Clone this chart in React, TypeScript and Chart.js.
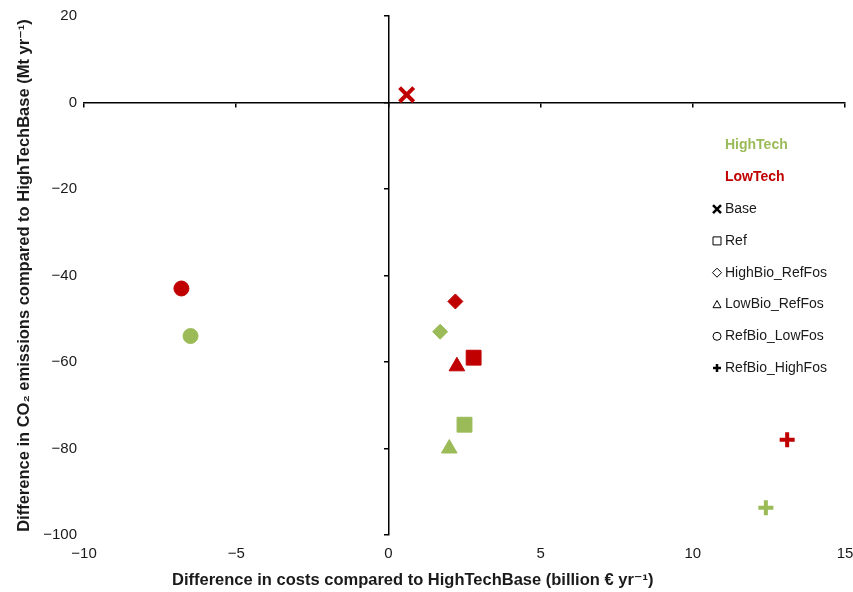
import React, { useEffect, useRef } from 'react';
import { Chart, registerables } from 'chart.js';

Chart.register(...registerables);

// ---- data ----
const scenarios = ['Base', 'Ref', 'HighBio_RefFos', 'LowBio_RefFos', 'RefBio_LowFos', 'RefBio_HighFos'];
const scenarioMarkers = ['crossRot', 'rect', 'rectRot', 'triangle', 'circle', 'cross'];
const groups = ['HighTech', 'LowTech'];
const groupColors = ['#9BBB59', '#C00000'];

// HighTech Base is the reference itself (0, 0), so it has no point
const highTechScenarios = ['Ref', 'HighBio_RefFos', 'LowBio_RefFos', 'RefBio_LowFos', 'RefBio_HighFos'];
const highTechCost = [2.5, 1.7, 2.0, -6.5, 12.4];
const highTechCO2 = [-74.5, -53, -80, -54, -93.7];

const lowTechScenarios = ['Base', 'Ref', 'HighBio_RefFos', 'LowBio_RefFos', 'RefBio_LowFos', 'RefBio_HighFos'];
const lowTechCost = [0.6, 2.8, 2.2, 2.25, -6.8, 13.1];
const lowTechCO2 = [1.8, -59, -46, -61, -43, -78];

const xTicks = [-10, -5, 0, 5, 10, 15];
const yTicks = [20, 0, -20, -40, -60, -80, -100];

const xTitle = 'Difference in costs compared to HighTechBase (billion \u20AC yr\u207B\u00B9)';
const yTitle = 'Difference in CO\u2082 emissions compared to HighTechBase (Mt yr\u207B\u00B9)';

// ---- styles ----
const FONT = "'Liberation Sans', Arial, 'DejaVu Sans', sans-serif";
const markerRadius: Record<string, number> = { crossRot: 10, rect: 10.5, rectRot: 7.5, triangle: 9, circle: 7.5, cross: 7.5 };
const markerBorder: Record<string, number> = { crossRot: 4, rect: 1, rectRot: 1, triangle: 1, circle: 1, cross: 4 };

const fmt = (v: number) => (v < 0 ? '\u2212' + Math.abs(v) : String(v));

function makeDataset(label: string, color: string, names: string[], xs: number[], ys: number[]) {
  const styles = names.map((n) => scenarioMarkers[scenarios.indexOf(n)]);
  return {
    label,
    data: xs.map((x, i) => ({ x, y: ys[i] })),
    showLine: false,
    pointStyle: styles,
    pointRadius: styles.map((s) => markerRadius[s]),
    pointHoverRadius: styles.map((s) => markerRadius[s]),
    pointBorderWidth: styles.map((s) => markerBorder[s]),
    pointHoverBorderWidth: styles.map((s) => markerBorder[s]),
    pointBackgroundColor: color,
    pointBorderColor: color,
  };
}

function drawLegendMarker(ctx: CanvasRenderingContext2D, style: string, x: number, y: number) {
  ctx.save();
  ctx.strokeStyle = '#000';
  ctx.fillStyle = '#000';
  ctx.lineWidth = 1;
  ctx.beginPath();
  const r = 4;
  switch (style) {
    case 'crossRot':
      ctx.lineWidth = 2.5;
      ctx.moveTo(x - r, y - r); ctx.lineTo(x + r, y + r);
      ctx.moveTo(x + r, y - r); ctx.lineTo(x - r, y + r);
      ctx.stroke();
      break;
    case 'rect':
      ctx.rect(x - r, y - r, 2 * r, 2 * r);
      ctx.stroke();
      break;
    case 'rectRot':
      ctx.moveTo(x, y - r - 0.5); ctx.lineTo(x + r + 0.5, y); ctx.lineTo(x, y + r + 0.5); ctx.lineTo(x - r - 0.5, y);
      ctx.closePath();
      ctx.stroke();
      break;
    case 'triangle':
      ctx.moveTo(x, y - r); ctx.lineTo(x + r, y + r * 0.8); ctx.lineTo(x - r, y + r * 0.8);
      ctx.closePath();
      ctx.stroke();
      break;
    case 'circle':
      ctx.arc(x, y, r, 0, Math.PI * 2);
      ctx.stroke();
      break;
    case 'cross':
      ctx.lineWidth = 2.5;
      ctx.moveTo(x - r, y); ctx.lineTo(x + r, y);
      ctx.moveTo(x, y - r); ctx.lineTo(x, y + r);
      ctx.stroke();
      break;
  }
  ctx.restore();
}

const annotPlugin = {
  id: 'annot',
  afterDraw(chart: any) {
    const { ctx, chartArea } = chart;
    ctx.save();
    // x axis title
    ctx.font = `bold 16.5px ${FONT}`;
    ctx.fillStyle = '#1a1a1a';
    ctx.textAlign = 'center';
    ctx.textBaseline = 'middle';
    ctx.fillText(xTitle, chartArea.left + chartArea.width * 0.432, chart.height - 12);

    // legend
    const textX = chartArea.right - 120;
    const markX = chartArea.right - 128;
    let y = chartArea.top + 129.5;
    const step = 31.8;
    ctx.textAlign = 'left';
    groups.forEach((g, i) => {
      ctx.font = `bold 14px ${FONT}`;
      ctx.fillStyle = groupColors[i];
      ctx.fillText(g, textX, y);
      y += step;
    });
    scenarios.forEach((s, i) => {
      drawLegendMarker(ctx, scenarioMarkers[i], markX, y);
      ctx.font = `14px ${FONT}`;
      ctx.fillStyle = '#1a1a1a';
      ctx.fillText(s, textX, y);
      y += step;
    });
    ctx.restore();
  },
};

export default function App() {
  const canvasRef = useRef<HTMLCanvasElement | null>(null);

  useEffect(() => {
    document.body.style.margin = '0';
    const canvas = canvasRef.current;
    if (!canvas) return;

    const setXTicks = (s: any) => { s.ticks = xTicks.map((v) => ({ value: v })); };
    const setYTicks = (s: any) => { s.ticks = yTicks.map((v) => ({ value: v })); };

    const chart = new Chart(canvas, {
      type: 'scatter',
      data: {
        datasets: [
          makeDataset('HighTech', groupColors[0], highTechScenarios, highTechCost, highTechCO2),
          makeDataset('LowTech', groupColors[1], lowTechScenarios, lowTechCost, lowTechCO2),
        ],
      },
      options: {
        animation: false,
        responsive: true,
        maintainAspectRatio: false,
        layout: { autoPadding: false, padding: { top: 16, right: 8, bottom: 29, left: 8 } },
        plugins: { legend: { display: false }, tooltip: { enabled: false } },
        scales: {
          x: {
            type: 'linear',
            position: 'bottom',
            min: -10,
            max: 15,
            afterBuildTicks: setXTicks,
            afterFit: (s: any) => { s.paddingLeft = 0; s.paddingRight = 0; },
            grid: { display: false, drawTicks: true, tickLength: 10 },
            border: { display: false },
            ticks: { padding: 0, color: '#1a1a1a', font: { family: FONT, size: 15 }, callback: (v: any) => fmt(Number(v)) },
          },
          y: {
            type: 'linear',
            position: 'left',
            min: -100,
            max: 20,
            afterBuildTicks: setYTicks,
            afterFit: (s: any) => { s.width = 76; },
            grid: { display: false, drawTicks: true, tickLength: 7 },
            border: { display: false },
            ticks: { padding: 0, color: '#1a1a1a', font: { family: FONT, size: 15 }, callback: (v: any) => fmt(Number(v)) },
            title: { display: true, text: yTitle, color: '#1a1a1a', font: { family: FONT, size: 16.5, weight: 'bold' }, padding: { top: 7, bottom: 2 } },
          },
          x0: {
            type: 'linear',
            axis: 'x',
            position: { y: 0 },
            min: -10,
            max: 15,
            afterBuildTicks: setXTicks,
            ticks: { display: false },
            grid: { drawOnChartArea: false, drawTicks: true, tickLength: 4, color: '#000', lineWidth: 1.5 },
            border: { display: true, color: '#000', width: 1.5 },
          },
          y0: {
            type: 'linear',
            axis: 'y',
            position: { x: 0 },
            min: -100,
            max: 20,
            afterBuildTicks: setYTicks,
            ticks: { display: false },
            grid: { drawOnChartArea: false, drawTicks: true, tickLength: 4, color: '#000', lineWidth: 1.5 },
            border: { display: true, color: '#000', width: 1.5 },
          },
        },
      } as any,
      plugins: [annotPlugin],
    });
    return () => chart.destroy();
  }, []);

  return (
    <div style={{ width: 853, height: 592, position: 'relative', background: '#fff' }}>
      <canvas ref={canvasRef} />
    </div>
  );
}
